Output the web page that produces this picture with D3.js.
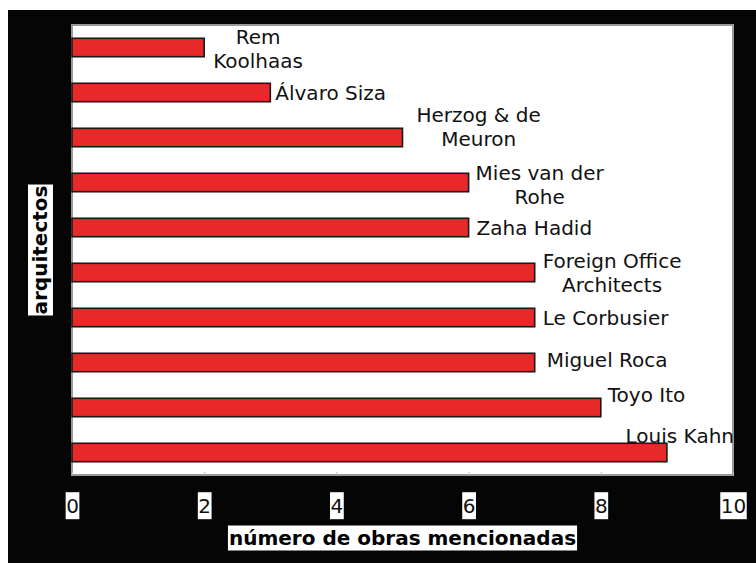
<!DOCTYPE html>
<html>
<head>
<meta charset="utf-8">
<script src="https://cdn.jsdelivr.net/npm/d3@7"></script>
<style>
  html, body { margin: 0; padding: 0; background: #fff; }
  svg { display: block; }
  text { font-family: "DejaVu Sans", Verdana, sans-serif; }
</style>
</head>
<body>
<div id="chart"></div>
<script>
// datos: arquitectos y número de obras mencionadas
var labelLines = [
  ["Rem", "Koolhaas"],
  ["Álvaro Siza"],
  ["Herzog & de", "Meuron"],
  ["Mies van der", "Rohe"],
  ["Zaha Hadid"],
  ["Foreign Office", "Architects"],
  ["Le Corbusier"],
  ["Miguel Roca"],
  ["Toyo Ito"],
  ["Louis Kahn"]
];
var arquitectos = labelLines.map(function(l) { return l.join(" "); });
var obras = [2, 3, 5, 6, 6, 7, 7, 7, 8, 9];
var xTicks = [0, 2, 4, 6, 8, 10];

// pequeños ajustes de la posición de las etiquetas (px)
var labelDx = [1, -3, 6, -1, 0, 0, 0, 4, -1, 0];
var labelDy = [1, 0, -11, 2, 0, 0, 0, -3, -13, -17];

var W = 756, H = 563;
var plot = { left: 72, top: 25, right: 733, bottom: 475 };

var svg = d3.select("#chart").append("svg")
  .attr("width", W).attr("height", H);

// fondo negro
svg.append("rect")
  .attr("x", 8).attr("y", 10)
  .attr("width", W - 8).attr("height", H - 10)
  .attr("fill", "#050505");

// área del gráfico
svg.append("rect")
  .attr("x", plot.left).attr("y", plot.top)
  .attr("width", plot.right - plot.left)
  .attr("height", plot.bottom - plot.top)
  .attr("fill", "#fff")
  .attr("stroke", "#9a9a9a")
  .attr("stroke-width", 2);

var x = d3.scaleLinear().domain([0, 10]).range([plot.left, plot.right]);
var y = d3.scaleBand().domain(arquitectos)
  .range([plot.top, plot.bottom])
  .paddingInner(0.59).paddingOuter(0.295);

// barras
svg.append("g").selectAll("rect")
  .data(obras)
  .enter().append("rect")
  .attr("x", x(0))
  .attr("y", function(d, i) { return y(arquitectos[i]); })
  .attr("width", function(d) { return x(d) - x(0); })
  .attr("height", y.bandwidth())
  .attr("fill", "#e8292a")
  .attr("stroke", "#1a1a1a")
  .attr("stroke-width", 1.6);

// etiquetas
var lineH = 24.5, capHalf = 7.3;
var labels = svg.append("g").attr("font-size", 20).attr("fill", "#111");
labelLines.forEach(function(lines, i) {
  var cy = y(arquitectos[i]) + y.bandwidth() / 2 + labelDy[i];
  var t = labels.append("text").attr("text-anchor", "middle");
  var spans = lines.map(function(line, j) {
    return t.append("tspan")
      .attr("y", cy - (lines.length - 1) * lineH / 2 + j * lineH + capHalf)
      .text(line);
  });
  var wMax = d3.max(spans, function(s) { return s.node().getComputedTextLength(); });
  var left = x(obras[i]) + 8 + labelDx[i];
  if (left + wMax > plot.right + 1) left = plot.right + 1 - wMax;
  spans.forEach(function(s) { s.attr("x", left + wMax / 2); });
});

// eje x
var axis = svg.append("g")
  .attr("transform", "translate(0," + plot.bottom + ")")
  .call(d3.axisBottom(x).tickValues(xTicks).tickSize(0).tickPadding(23.5));
axis.select(".domain").remove();
axis.selectAll(".tick text")
  .attr("font-size", 20)
  .attr("font-family", "DejaVu Sans, Verdana, sans-serif")
  .attr("fill", "#111");
axis.selectAll(".tick").each(function() {
  var g = d3.select(this);
  var b = g.select("text").node().getBBox();
  g.insert("rect", "text")
    .attr("x", b.x - 0.5).attr("y", b.y - 1.5)
    .attr("width", b.width + 1).attr("height", b.height + 3)
    .attr("fill", "#fff");
  g.append("line")
    .attr("y1", -3).attr("y2", 0)
    .attr("stroke", "#bbb");
});

// títulos de los ejes
function boxedTitle(txt, cx, cy, rot) {
  var g = svg.append("g")
    .attr("transform", "translate(" + cx + "," + cy + ") rotate(" + rot + ")");
  var t = g.append("text")
    .attr("text-anchor", "middle")
    .attr("dy", "0.35em")
    .attr("font-size", 20)
    .attr("font-weight", "bold")
    .attr("fill", "#000")
    .text(txt);
  var b = t.node().getBBox();
  g.insert("rect", "text")
    .attr("x", b.x - 1).attr("y", b.y)
    .attr("width", b.width + 2).attr("height", b.height + 1)
    .attr("fill", "#fff");
}
boxedTitle("número de obras mencionadas", (plot.left + plot.right) / 2, 537.5, 0);
boxedTitle("arquitectos", 40, (plot.top + plot.bottom) / 2, -90);
</script>
</body>
</html>
